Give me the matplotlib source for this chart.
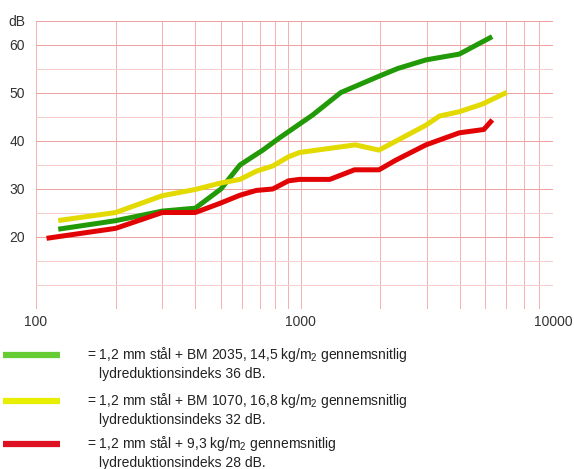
import matplotlib.pyplot as plt
from matplotlib.lines import Line2D

plt.rcParams['font.family'] = ['Liberation Sans', 'DejaVu Sans']
plt.rcParams['mathtext.fontset'] = 'custom'
plt.rcParams['mathtext.rm'] = 'Liberation Sans'
plt.rcParams['mathtext.default'] = 'regular'

# readings (Hz, dB)
green_f = [124, 200, 300, 400, 500, 590, 720, 830, 1110, 1420, 1980, 2330, 2980, 3980, 5200]
green_db = [21.7, 23.4, 25.4, 26.0, 30.0, 35.0, 38.1, 40.6, 45.4, 50.1, 53.5, 55.1, 56.9, 58.1, 61.5]

yellow_f = [124, 200, 300, 400, 495, 590, 680, 785, 900, 990, 1610, 1980, 2980, 3350, 3980, 4870, 5900]
yellow_db = [23.5, 25.1, 28.6, 29.9, 31.2, 32.0, 33.7, 34.8, 36.7, 37.6, 39.2, 38.1, 43.3, 45.2, 46.1, 47.7, 49.9]

red_f = [112, 200, 300, 400, 495, 590, 680, 785, 900, 990, 1290, 1600, 1980, 2290, 2980, 3980, 4930, 5230]
red_db = [19.8, 21.8, 25.1, 25.1, 27.0, 28.7, 29.7, 30.0, 31.7, 32.0, 32.0, 34.0, 34.0, 36.0, 39.2, 41.7, 42.4, 44.0]

line_colors = ['#229a08', '#e2da00', '#e20404']
swatch_colors = ['#66cc33', '#e8ee00', '#dd1122']
legend_lines = [
    ('= 1,2 mm stål + BM 2035, 14,5 kg/m$_2$ gennemsnitlig', 'lydreduktionsindeks 36 dB.'),
    ('= 1,2 mm stål + BM 1070, 16,8 kg/m$_2$ gennemsnitlig', 'lydreduktionsindeks 32 dB.'),
    ('= 1,2 mm stål + 9,3 kg/m$_2$ gennemsnitlig', 'lydreduktionsindeks 28 dB.'),
]

W, H = 574, 469
fig = plt.figure(figsize=(W / 100, H / 100), dpi=100)
ax = fig.add_axes([36 / W, 1 - 309 / H, (553 - 36) / W, (309 - 21) / H])

ax.set_xscale('log')
ax.set_xlim(100, 9000)
ax.set_ylim(5, 65)

ax.set_xticks([100, 1000, 9000])
ax.set_xticklabels(['100', '1000', '10000'])
ax.set_xticks([200, 300, 400, 500, 600, 700, 800, 900,
               2000, 3000, 4000, 5000, 6000, 7000, 8000], minor=True)
ax.set_yticks([20, 30, 40, 50, 60, 65])
ax.set_yticklabels(['20', '30', '40', '50', '60', 'dB'])
ax.set_yticks([10, 15, 25, 35, 45, 55], minor=True)
ax.tick_params(which='both', length=0, labelsize=10, labelcolor='#333333')
ax.tick_params(axis='y', pad=8)
ax.tick_params(axis='x', pad=4)
ax.xaxis.set_minor_formatter(plt.NullFormatter())

ax.grid(True, which='major', axis='y', color='#efa0a0', lw=0.7)
ax.grid(True, which='minor', axis='y', color='#f8cccc', lw=0.7)
ax.grid(True, which='both', axis='x', color='#f4b0b0', lw=0.7)
for s in ax.spines.values():
    s.set_visible(False)

ax.plot(green_f, green_db, color=line_colors[0], lw=3.6, solid_joinstyle='round')
ax.plot(yellow_f, yellow_db, color=line_colors[1], lw=3.6, solid_joinstyle='round')
ax.plot(red_f, red_db, color=line_colors[2], lw=3.6, solid_joinstyle='round')

# legend block under the chart
rows_y = [355, 401, 444]
for i, (l1, l2) in enumerate(legend_lines):
    y = rows_y[i]
    fig.add_artist(Line2D([3 / W, 60 / W], [1 - y / H, 1 - y / H],
                          color=swatch_colors[i], lw=4.5, solid_capstyle='butt'))
    fig.text(87 / W, 1 - (y - 1) / H, l1, fontsize=10, color='#222222', va='center')
    fig.text(99 / W, 1 - (y + 19) / H, l2, fontsize=10, color='#222222', va='center')

fig.savefig('out.png', dpi=100)
